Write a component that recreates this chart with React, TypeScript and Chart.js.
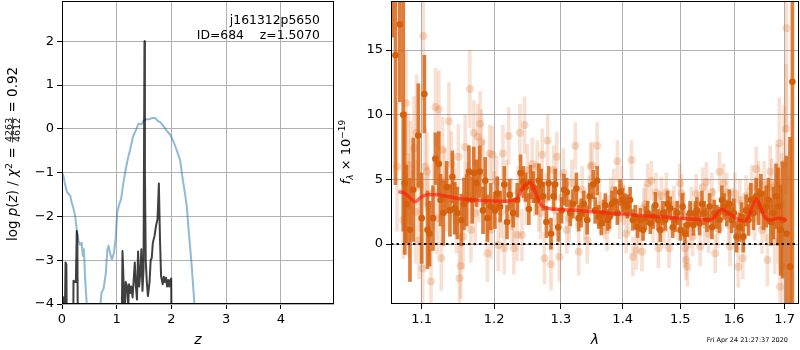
import React, { useEffect, useRef } from 'react';
import { Chart, registerables } from 'chart.js';
Chart.register(...registerables);

const FONT = '"DejaVu Sans", sans-serif';

// ---------- left panel: p(z) ----------
const leftXTicks = [0, 1, 2, 3, 4];
const leftYTicks = [-4, -3, -2, -1, 0, 1, 2];

const pzZ = [0, 0.03, 0.05, 0.065, 0.08, 0.095, 0.2, 0.21, 0.24, 0.255,
  0.27, 0.28, 0.295, 1.08, 1.105, 1.125, 1.14, 1.145, 1.165, 1.19,
  1.21, 1.225, 1.245, 1.265, 1.29, 1.31, 1.33, 1.35, 1.37, 1.39,
  1.41, 1.43, 1.45, 1.47, 1.49, 1.507, 1.515, 1.53, 1.55, 1.57,
  1.6, 1.62, 1.64, 1.66, 1.69, 1.72, 1.745, 1.77, 1.79, 1.81,
  1.84, 1.86, 1.88, 1.9, 1.92, 1.94, 1.96, 1.98, 1.995, 2.01];
const pzLog = [-3.9, -3.85, -4.5, -3.05, -3.1, -6, -6, -3.47, -3.5, -3.4,
  -2.33, -2.45, -6, -6, -2.79, -3.5, -4.5, -4.2, -3.5, -3.6,
  -4.1, -3.55, -3.75, -3.6, -3.85, -3.45, -3.05, -3.6, -3.9, -2.8,
  -3.6, -3.3, -2.75, -3.7, -3.2, 2.0, -1.0, -3.0, -3.5, -3.82,
  -3.5, -3.0, -2.95, -2.6, -2.45, -2.2, -2.07, -1.25, -2.5, -3.36,
  -3.55, -3.38, -3.5, -3.4, -3.6, -3.45, -3.6, -3.45, -3.42, -6];

const chiZ = [0, 0.02, 0.05, 0.08, 0.1, 0.13, 0.15, 0.17, 0.2, 0.24,
  0.27, 0.3, 0.33, 0.36, 0.38, 0.4, 0.42, 0.45, 0.48, 0.5,
  0.65, 0.69, 0.72, 0.76, 0.8, 0.83, 0.85, 0.88, 0.91, 0.95,
  0.98, 1.01, 1.04, 1.08, 1.12, 1.16, 1.2, 1.25, 1.3, 1.35,
  1.4, 1.45, 1.5, 1.55, 1.6, 1.65, 1.7, 1.75, 1.8, 1.86,
  1.92, 1.98, 2.04, 2.1, 2.16, 2.2, 2.25, 2.28, 2.32, 2.37,
  2.42, 2.46];
const chiLog = [-1.05, -1.04, -1.23, -1.4, -1.46, -1.5, -1.52, -1.65, -1.77, -1.99,
  -2.3, -2.55, -2.65, -2.6, -2.9, -2.75, -3.36, -3.96, -4.6, -5,
  -5, -4.2, -3.75, -3.65, -3.3, -2.75, -2.67, -2.85, -2.98, -2.83,
  -2.5, -1.9, -1.75, -1.6, -1.25, -0.95, -0.7, -0.45, -0.17, -0.03,
  0.12, 0.1, 0.2, 0.22, 0.22, 0.25, 0.25, 0.18, 0.15, 0.05,
  -0.05, -0.14, -0.3, -0.5, -0.72, -1.1, -1.5, -1.77, -2.4, -3.13,
  -4.0, -5];

// ---------- right panel: spectrum ----------
const rightXTicks = [1.1, 1.2, 1.3, 1.4, 1.5, 1.6, 1.7];
const rightYTicks = [0, 5, 10, 15];

const darkLam = [1.062, 1.066, 1.0716, 1.076, 1.078, 1.080, 1.0847, 1.089, 1.0956, 1.100,
  1.1036, 1.1077, 1.1105, 1.1151, 1.1183, 1.1229, 1.1252, 1.1289, 1.1335, 1.138,
  1.1413, 1.1445, 1.1482, 1.1537, 1.1573, 1.161, 1.1642, 1.1688, 1.171, 1.1748,
  1.1793, 1.184, 1.1872, 1.1903, 1.195,
  1.201, 1.2045, 1.2086, 1.2146, 1.2186, 1.2225, 1.2276, 1.2336, 1.2386, 1.2426,
  1.2461, 1.251, 1.2536, 1.2576, 1.2626, 1.266, 1.2696, 1.2726, 1.2776, 1.281,
  1.2846, 1.2886, 1.2911, 1.296, 1.301, 1.3049, 1.3092, 1.3146, 1.3189, 1.3243,
  1.328, 1.3319, 1.3361, 1.3416, 1.3458, 1.3513,
  1.3545, 1.3578, 1.3604, 1.3647, 1.3685, 1.3712, 1.375, 1.3782, 1.382, 1.3874,
  1.3911, 1.3955, 1.3998, 1.4038, 1.4078, 1.4125, 1.4172, 1.4212, 1.4252, 1.4299,
  1.4346, 1.4386, 1.4426, 1.4472, 1.4519, 1.4559, 1.4606, 1.4646, 1.4693, 1.4733,
  1.4773, 1.482, 1.4867, 1.4907, 1.4947, 1.5006, 1.5043, 1.5086, 1.5129, 1.5179,
  1.524,
  1.5275, 1.5303, 1.5352, 1.5396, 1.5439, 1.5489, 1.5538, 1.5582, 1.5625, 1.5675,
  1.5724, 1.5768, 1.5811, 1.5861, 1.591, 1.5954, 1.5997, 1.6049, 1.6101, 1.6148,
  1.618, 1.6233, 1.6279, 1.6326, 1.6378, 1.6431, 1.6477, 1.6524, 1.6576, 1.6629,
  1.6675, 1.6722, 1.6774, 1.6827, 1.6873, 1.692, 1.696, 1.704, 1.711, 1.716];
const darkFlux = [22, 14.6, 17, 10, 4.7, 3.1, 1.1, 4.2, 8.4, 2.0,
  11.6, 1.1, 0.8, 2.0, 6.6, 6.2, 3.4, 2.4, 4.4, 2.6,
  5.2, 2.76, 2.4, 1.86, 3.1, 3.4, 5.6, 3.4, 5.5, 4.7,
  5.6, 2.6, 4.9, 2.0, 2.9,
  2.6, 3.9, 2.9, 4.6, 1.7, 3.8, 2.4, 3.4, 5.5, 4.8,
  4.4, 2.7, 4.8, 4.4, 3.4, 4.9, 4.6, 3.7, 1.7, 4.7,
  0.8, 3.7, 4.6, 1.3, 2.6, 4.2, 4.0, 2.4, 3.1, 4.3,
  2.0, 2.4, 3.1, 1.86, 3.7, 4.6,
  2.6, 4.9, 2.1, 1.6, 2.4, 3.0, 1.86, 2.1, 3.1, 3.3,
  2.4, 4.0, 3.4, 3.1, 2.9, 3.4, 1.86, 2.1, 1.3, 1.86,
  1.08, 2.0, 2.4, 1.6, 2.1, 3.0, 1.86, 1.08, 2.4, 1.86,
  3.1, 2.76, 1.3, 1.86, 2.4, 1.08, 2.9, 0.8, 1.47, 2.4,
  1.47,
  2.4, 2.6, 1.6, 3.1, 2.4, 1.86, 2.9, 1.3, 2.4, 2.1,
  1.86, 3.4, 2.9, 2.4, 3.1, 1.86, 2.4, 0.57, 1.3, 2.1,
  0.57, 2.6, 1.86, 3.4, 2.4, 3.7, 2.9, 3.9, 2.6, 2.9,
  3.4, 1.7, 2.4, 3.7, 2.9, 1.08, 1.86, 0.8, -1.75, 12.55];
const darkErr = [6, 10, 6, 9, 5.5, 3, 4, 4, 4, 3.5,
  3, 3, 2.5, 2.5, 2, 2.5, 2, 2.5, 2, 2,
  2, 2, 2, 2, 2, 2, 2, 1.8, 2, 1.8,
  2, 1.8, 1.8, 1.8, 1.8,
  1.4, 1.3, 1.2, 1.4, 1.3, 1.2, 1.1, 1.3, 1.4, 1.2,
  1.1, 1.2, 1.3, 1.2, 1.1, 1.3, 1.2, 1.1, 1.2, 1.3,
  1.2, 1.1, 1.2, 1.1, 1.0, 1.2, 1.1, 1.0, 1.1, 1.2,
  1.0, 1.1, 1.0, 1.1, 1.0, 1.1,
  1.0, 1.1, 0.9, 0.9, 1.0, 0.9, 0.8, 0.9, 1.0, 1.1,
  0.9, 1.0, 0.9, 0.8, 0.9, 1.0, 0.8, 0.9, 0.8, 0.9,
  0.8, 0.9, 0.9, 0.8, 0.9, 1.0, 0.8, 0.9, 0.9, 0.8,
  1.0, 0.9, 0.8, 0.9, 0.9, 0.8, 1.0, 0.8, 0.9, 0.9,
  0.8,
  0.9, 1.0, 0.9, 1.0, 0.9, 0.9, 1.0, 0.9, 1.0, 0.9,
  1.0, 1.1, 1.0, 1.0, 1.1, 1.0, 1.1, 1.2, 1.1, 1.1,
  1.2, 1.2, 1.2, 1.3, 1.3, 1.4, 1.4, 1.5, 1.5, 1.6,
  1.7, 1.8, 2.0, 2.5, 3.0, 3.5, 4.5, 6, 10, 25];

const lightLam = [1.068, 1.076, 1.0794, 1.0825, 1.0856, 1.09, 1.0934, 1.0967, 1.1014, 1.1022,
  1.1045, 1.107, 1.1124, 1.1183, 1.1229, 1.1262, 1.128, 1.131, 1.1366, 1.14,
  1.1445, 1.1496, 1.151, 1.1527, 1.156, 1.159, 1.1655, 1.167, 1.171, 1.173,
  1.1766, 1.18, 1.182, 1.184, 1.1903, 1.1935, 1.1955, 1.1975, 1.2036, 1.206,
  1.2126, 1.2146, 1.221, 1.2246, 1.2286, 1.2336, 1.2376, 1.2406, 1.2446, 1.2486,
  1.2561, 1.2636, 1.2686, 1.2711, 1.2746, 1.2795, 1.2846, 1.2886, 1.2936, 1.2976,
  1.3038, 1.3092, 1.3173, 1.3227, 1.328, 1.3335, 1.3416, 1.347, 1.3497, 1.3578,
  1.3631, 1.3739, 1.3847, 1.3911, 1.398, 1.4059, 1.4149, 1.4172, 1.4232, 1.4328,
  1.4386, 1.4426, 1.4489, 1.457, 1.4613, 1.4666, 1.4753, 1.48, 1.4853, 1.4993,
  1.5023, 1.5086, 1.5105, 1.5129, 1.5201, 1.5225, 1.529, 1.5364, 1.541, 1.5477,
  1.552, 1.558, 1.5643, 1.5724, 1.58, 1.5861, 1.5922, 1.6016, 1.6081, 1.6112,
  1.617, 1.6233, 1.6346, 1.6431, 1.6477, 1.6547, 1.6589, 1.6655, 1.6708, 1.6741,
  1.68, 1.685, 1.6893, 1.6906, 1.696, 1.6987, 1.7027, 1.7041,
  1.083, 1.092, 1.098, 1.109, 1.116, 1.121, 1.133, 1.142, 1.147, 1.162,
  1.178, 1.188, 1.2, 1.21, 1.218, 1.226, 1.235, 1.247, 1.26, 1.266,
  1.277, 1.291, 1.301, 1.313, 1.325, 1.338, 1.345, 1.361, 1.37, 1.38,
  1.395, 1.402, 1.41, 1.427, 1.436, 1.452, 1.464, 1.471, 1.489, 1.496,
  1.506, 1.517, 1.533, 1.545, 1.561, 1.569, 1.577, 1.59, 1.597, 1.613,
  1.628, 1.64, 1.651, 1.662, 1.677, 1.687, 1.694];
const lightFlux = [6.0, 1.86, 10.9, 6.1, 5.5, 7.4, 8.6, 0.3, -1.9, 16.1,
  6.0, 5.6, -2.9, 10.6, 10.4, -1.1, 7.3, 4.9, 9.5, 6.2,
  3.3, 6.75, -2.65, -1.7, 0.57, 7.5, 12.0, 1.08, 8.6, 2.4,
  8.3, 9.3, 7.9, 5.5, -0.72, 7.0, 1.08, 6.9, 4.8, -0.08,
  7.0, -0.33, 8.35, 3.1, -0.33, 0.7, 8.6, 0.7, 9.2, 5.7,
  6.2, 6.0, 2.4, 6.9, -1.1, 8.0, -1.57, 5.7, 6.75, -0.98,
  5.5, 1.08, 4.7, 7.6, -0.6, 4.2, 0.3, 6.0, 6.1, 7.6,
  2.4, 1.08, 4.2, 6.4, 4.4, 0.8, 6.5, -0.98, -0.46, -0.6,
  3.1, 4.7, 4.9, 4.0, -0.33, 3.7, 4.0, -0.33, 2.6, 4.7,
  3.9, -0.33, -1.24, -1.75, 2.9, 0.57, 3.9, -0.2, 4.4, 4.8,
  0.8, 4.0, -0.72, 5.6, 4.7, 4.0, -0.2, 3.9, -1.75, 3.4,
  -1.1, 3.7, 4.4, 5.8, 4.7, 1.08, 4.6, -1.24, 5.6, 4.4,
  0.18, 4.7, 7.8, -3.3, -1.75, 6.2, 8.9, 16.7,
  3.0, 2.5, 4.5, 3.0, 4.0, 2.0, 3.5, 4.5, 1.8, 3.8,
  4.2, 3.0, 3.5, 2.5, 4.5, 2.0, 4.0, 3.5, 4.2, 3.0,
  3.5, 2.6, 3.6, 2.0, 3.0, 2.2, 3.5, 3.0, 2.0, 3.5,
  2.0, 3.0, 2.3, 1.5, 2.8, 1.6, 2.6, 1.2, 3.0, 1.8,
  2.5, 1.2, 2.5, 1.5, 2.8, 1.2, 2.5, 1.5, 2.8, 1.8,
  2.6, 2.0, 3.0, 2.2, 2.8, 1.5, 3.0];
const lightErr = [5, 3, 4, 4, 4, 4, 4.5, 3, 3, 5,
  3, 3, 2.5, 3, 3, 2.5, 2.5, 2.5, 3, 2.5,
  2.5, 2.5, 2.5, 2.5, 2.5, 2.5, 3, 2.5, 2.5, 2.5,
  2.5, 2.5, 2.5, 2.5, 2.2, 2.2, 2.2, 2.2, 2, 2,
  2.2, 2, 2.2, 2, 2, 2, 2.2, 2, 2.2, 2,
  2, 2, 2, 2, 2, 2, 2, 1.9, 1.9, 1.9,
  1.9, 1.8, 1.8, 1.8, 1.8, 1.8, 1.8, 1.8, 1.8, 1.8,
  1.6, 1.6, 1.6, 1.6, 1.6, 1.5, 1.5, 1.5, 1.5, 1.5,
  1.5, 1.5, 1.5, 1.5, 1.5, 1.5, 1.5, 1.5, 1.5, 1.5,
  1.5, 1.5, 1.5, 1.5, 1.5, 1.5, 1.5, 1.5, 1.5, 1.5,
  1.5, 1.5, 1.5, 1.5, 1.5, 1.5, 1.5, 1.6, 1.6, 1.6,
  1.6, 1.6, 1.7, 1.7, 1.7, 1.8, 1.8, 2, 2, 2.2,
  2.5, 3, 3.5, 3.5, 4, 4.5, 5, 8,
  4, 4, 3.5, 3, 2.8, 2.8, 2.5, 2.5, 2.5, 2.5,
  2.5, 2.2, 2.1, 2, 2, 2, 2, 2, 2, 2,
  2, 1.9, 1.9, 1.8, 1.8, 1.8, 1.8, 1.6, 1.6, 1.6,
  1.6, 1.5, 1.5, 1.5, 1.5, 1.5, 1.5, 1.5, 1.5, 1.5,
  1.5, 1.5, 1.5, 1.5, 1.5, 1.5, 1.5, 1.5, 1.5, 1.6,
  1.7, 1.7, 1.8, 2, 2.2, 3, 4];

const modelLam = [1.0696, 1.078, 1.086, 1.0912, 1.1, 1.109, 1.125, 1.148, 1.171, 1.198,
  1.215, 1.229, 1.234, 1.240, 1.2526, 1.2626, 1.270, 1.280, 1.295, 1.331,
  1.384, 1.44, 1.469, 1.499, 1.530, 1.555, 1.563, 1.570, 1.577, 1.585,
  1.596, 1.610, 1.621, 1.630, 1.637, 1.644, 1.651, 1.660, 1.671, 1.687,
  1.696, 1.704];
const modelFlux = [4.05, 3.92, 3.5, 3.27, 3.66, 3.84, 3.8, 3.53, 3.4, 3.32,
  3.3, 3.4, 3.5, 4.2, 4.74, 3.8, 3.0, 2.76, 2.68, 2.58,
  2.37, 2.17, 2.11, 1.99, 1.92, 1.86, 2.1, 2.5, 2.68, 2.5,
  2.2, 1.86, 1.8, 2.3, 3.0, 3.45, 2.9, 2.1, 1.86, 2.0,
  1.95, 1.8];

const RIGHT_X_MIN = 1.0603;
const RIGHT_X_MAX = 1.7297;

function fmtMinus(v: number) {
  return v < 0 ? '\u2212' + Math.abs(v) : String(v);
}

type Piece = { t?: string; font: string; dy?: number; frac?: [string, string]; numY?: number; denY?: number; barY?: number };

function drawRotated(ctx: CanvasRenderingContext2D, x: number, y: number, pieces: Piece[]) {
  ctx.save();
  ctx.translate(x, y);
  ctx.rotate(-Math.PI / 2);
  ctx.fillStyle = '#000';
  ctx.textBaseline = 'alphabetic';
  ctx.textAlign = 'left';
  const widths = pieces.map((p) => {
    ctx.font = p.font;
    if (p.frac) return Math.max(ctx.measureText(p.frac[0]).width, ctx.measureText(p.frac[1]).width) + 2;
    return ctx.measureText(p.t || '').width;
  });
  const total = widths.reduce((a, b) => a + b, 0);
  let cur = -total / 2;
  pieces.forEach((p, i) => {
    ctx.font = p.font;
    const w = widths[i];
    if (p.frac) {
      ctx.textAlign = 'center';
      ctx.fillText(p.frac[0], cur + w / 2, p.numY || 0);
      ctx.fillText(p.frac[1], cur + w / 2, p.denY || 0);
      ctx.fillRect(cur + 0.5, (p.barY || 0) - 0.4, w - 1, 0.8);
      ctx.textAlign = 'left';
    } else {
      ctx.fillText(p.t || '', cur, p.dy || 0);
    }
    cur += w;
  });
  ctx.restore();
}

function framePlugin(extra: (ctx: CanvasRenderingContext2D, chart: any) => void) {
  return {
    id: 'frameAndText',
    afterDraw(chart: any) {
      const { ctx, chartArea: a } = chart;
      ctx.save();
      ctx.strokeStyle = '#000';
      ctx.lineWidth = 1;
      ctx.strokeRect(a.left + 0.5, a.top + 0.5, a.right - a.left - 1, a.bottom - a.top - 1);
      ctx.restore();
      extra(ctx, chart);
    },
  };
}

function axisCommon() {
  return {
    grid: { color: '#b0b0b0', lineWidth: 1, tickColor: '#000', tickLength: 5, drawTicks: true, offset: false },
    border: { display: false },
    ticks: { font: { family: FONT, size: 13 }, color: '#000', padding: 3, maxRotation: 0, autoSkip: false },
  };
}

function fixH(h: number) {
  return (s: any) => { s.height = h; s.paddingLeft = 0; s.paddingRight = 0; s.paddingTop = 0; s.paddingBottom = 0; };
}
function fixW(w: number) {
  return (s: any) => { s.width = w; s.paddingLeft = 0; s.paddingRight = 0; s.paddingTop = 0; s.paddingBottom = 0; };
}

export default function App() {
  const leftRef = useRef<HTMLCanvasElement>(null);
  const rightRef = useRef<HTMLCanvasElement>(null);

  useEffect(() => {
    const n1 = Math.min(pzZ.length, pzLog.length);
    const n2 = Math.min(chiZ.length, chiLog.length);
    const blackData = pzZ.slice(0, n1).map((x, i) => ({ x, y: pzLog[i] }));
    const blueData = chiZ.slice(0, n2).map((x, i) => ({ x, y: chiLog[i] }));

    const leftCfg: any = {
      type: 'line',
      data: {
        datasets: [
          { data: blueData, borderColor: 'rgba(31,119,180,0.5)', borderWidth: 2, pointRadius: 0, order: 2, clip: 0, borderJoinStyle: 'round' },
          { data: blackData, borderColor: 'rgba(0,0,0,0.75)', borderWidth: 2, pointRadius: 0, order: 1, clip: 0, borderJoinStyle: 'round' },
        ],
      },
      options: {
        animation: false,
        responsive: false,
        devicePixelRatio: 1,
        events: [],
        layout: { autoPadding: false, padding: { left: 0, top: 1, right: 1, bottom: 0 } },
        plugins: { legend: { display: false }, tooltip: { enabled: false } },
        scales: {
          x: {
            ...axisCommon(),
            type: 'linear', min: 0, max: 4.97, offset: false,
            afterBuildTicks: (s: any) => { s.ticks = leftXTicks.map((v) => ({ value: v })); },
            afterFit: fixH(46),
            ticks: { ...axisCommon().ticks, callback: (v: any) => fmtMinus(Number(v)) },
            title: { display: true, text: 'z', color: '#000', font: { family: FONT, size: 14, style: 'italic' }, padding: { top: 0, bottom: 1 } },
          },
          y: {
            ...axisCommon(),
            type: 'linear', min: -4, max: 2.92,
            afterBuildTicks: (s: any) => { s.ticks = leftYTicks.map((v) => ({ value: v })); },
            afterFit: fixW(62),
            ticks: { ...axisCommon().ticks, callback: (v: any) => fmtMinus(Number(v)) },
          },
        },
      },
      plugins: [framePlugin((ctx) => {
        ctx.save();
        ctx.fillStyle = '#000';
        ctx.font = '12.4px ' + FONT;
        ctx.textAlign = 'right';
        ctx.textBaseline = 'alphabetic';
        ctx.fillText('j161312p5650', 320, 24);
        ctx.fillText('ID=684    z=1.5070', 320, 39);
        ctx.restore();
        const F = '13.5px ' + FONT;
        const FI = 'italic 13.5px ' + FONT;
        const FS = '9.5px ' + FONT;
        drawRotated(ctx, 17, 154, [
          { t: 'log ', font: F },
          { t: 'p', font: FI },
          { t: '(', font: F },
          { t: 'z', font: FI },
          { t: ') / ', font: F },
          { t: '\u03c7', font: FI },
          { t: '2', font: FS, dy: -5.5 },
          { t: ' = ', font: F },
          { font: FS, frac: ['4263', '4612'], numY: -5.2, denY: 3.4, barY: -4.3 },
          { t: ' = 0.92', font: F },
        ]);
      })],
    };

    const nd = Math.min(darkLam.length, darkFlux.length, darkErr.length);
    const nl = Math.min(lightLam.length, lightFlux.length, lightErr.length);
    const nm = Math.min(modelLam.length, modelFlux.length);
    const darkBars = darkLam.slice(0, nd).map((x, i) => ({ x, y: [darkFlux[i] - darkErr[i], darkFlux[i] + darkErr[i]] }));
    const darkPts = darkLam.slice(0, nd).map((x, i) => ({ x, y: darkFlux[i] }));
    const lightBars = lightLam.slice(0, nl).map((x, i) => ({ x, y: [lightFlux[i] - lightErr[i], lightFlux[i] + lightErr[i]] }));
    const lightPts = lightLam.slice(0, nl).map((x, i) => ({ x, y: lightFlux[i] }));
    const model = modelLam.slice(0, nm).map((x, i) => ({ x, y: modelFlux[i] }));
    const zero = [{ x: RIGHT_X_MIN, y: 0 }, { x: RIGHT_X_MAX, y: 0 }];

    const rightCfg: any = {
      type: 'scatter',
      data: {
        datasets: [
          { type: 'bar', data: lightBars, backgroundColor: 'rgba(222,120,50,0.22)', barThickness: 3, grouped: false, borderWidth: 0, order: 6, clip: 0 },
          { type: 'scatter', data: lightPts, pointRadius: 4, backgroundColor: 'rgba(222,120,50,0.28)', borderWidth: 0, pointBorderWidth: 0, order: 5, clip: 0 },
          { type: 'bar', data: darkBars, backgroundColor: 'rgba(214,98,16,0.82)', barThickness: 3, grouped: false, borderWidth: 0, order: 4, clip: 0 },
          { type: 'scatter', data: darkPts, pointRadius: 3.3, backgroundColor: 'rgb(212,96,12)', borderWidth: 0, pointBorderWidth: 0, order: 3, clip: 0 },
          { type: 'line', data: model, borderColor: 'rgba(255,25,10,0.62)', borderWidth: 3.5, pointRadius: 0, order: 2, clip: 0, cubicInterpolationMode: 'monotone', borderJoinStyle: 'round' },
          { type: 'line', data: zero, borderColor: '#111', borderWidth: 2, borderDash: [2.5, 3], pointRadius: 0, order: 1, clip: 0 },
        ],
      },
      options: {
        animation: false,
        responsive: false,
        devicePixelRatio: 1,
        events: [],
        layout: { autoPadding: false, padding: { left: 0, top: 1, right: 1, bottom: 0 } },
        plugins: { legend: { display: false }, tooltip: { enabled: false } },
        scales: {
          x: {
            ...axisCommon(),
            type: 'logarithmic', min: RIGHT_X_MIN, max: RIGHT_X_MAX, offset: false,
            afterBuildTicks: (s: any) => { s.ticks = rightXTicks.map((v) => ({ value: v })); },
            afterFit: fixH(46),
            ticks: { ...axisCommon().ticks, callback: (v: any) => Number(v).toFixed(1) },
            title: { display: true, text: '\u03bb', color: '#000', font: { family: FONT, size: 14, style: 'italic' }, padding: { top: 0, bottom: 1 } },
          },
          y: {
            ...axisCommon(),
            type: 'linear', min: -4.64, max: 18.8,
            afterBuildTicks: (s: any) => { s.ticks = rightYTicks.map((v) => ({ value: v })); },
            afterFit: fixW(56),
            ticks: { ...axisCommon().ticks, callback: (v: any) => fmtMinus(Number(v)) },
          },
        },
      },
      plugins: [framePlugin((ctx) => {
        const F = '13px ' + FONT;
        const FI = 'italic 13px ' + FONT;
        const FS = '9px ' + FONT;
        const FSI = 'italic 9px ' + FONT;
        drawRotated(ctx, 15, 152, [
          { t: 'f', font: FI },
          { t: '\u03bb', font: FSI, dy: 3 },
          { t: ' \u00d7 10', font: F },
          { t: '\u221219', font: FS, dy: -5.5 },
        ]);
        ctx.save();
        ctx.fillStyle = '#000';
        ctx.font = '6.5px ' + FONT;
        ctx.textAlign = 'right';
        ctx.textBaseline = 'alphabetic';
        ctx.fillText('Fri Apr 24 21:27:37 2020', 453, 342);
        ctx.restore();
      })],
    };

    const c1 = new Chart(leftRef.current as HTMLCanvasElement, leftCfg);
    const c2 = new Chart(rightRef.current as HTMLCanvasElement, rightCfg);
    return () => { c1.destroy(); c2.destroy(); };
  }, []);

  return (
    <div style={{ position: 'fixed', left: 0, top: 0, width: 800, height: 350, background: '#fff' }}>
      <canvas ref={leftRef} width={335} height={350} style={{ position: 'absolute', left: 0, top: 0, width: 335, height: 350 }} />
      <canvas ref={rightRef} width={465} height={350} style={{ position: 'absolute', left: 335, top: 0, width: 465, height: 350 }} />
    </div>
  );
}
